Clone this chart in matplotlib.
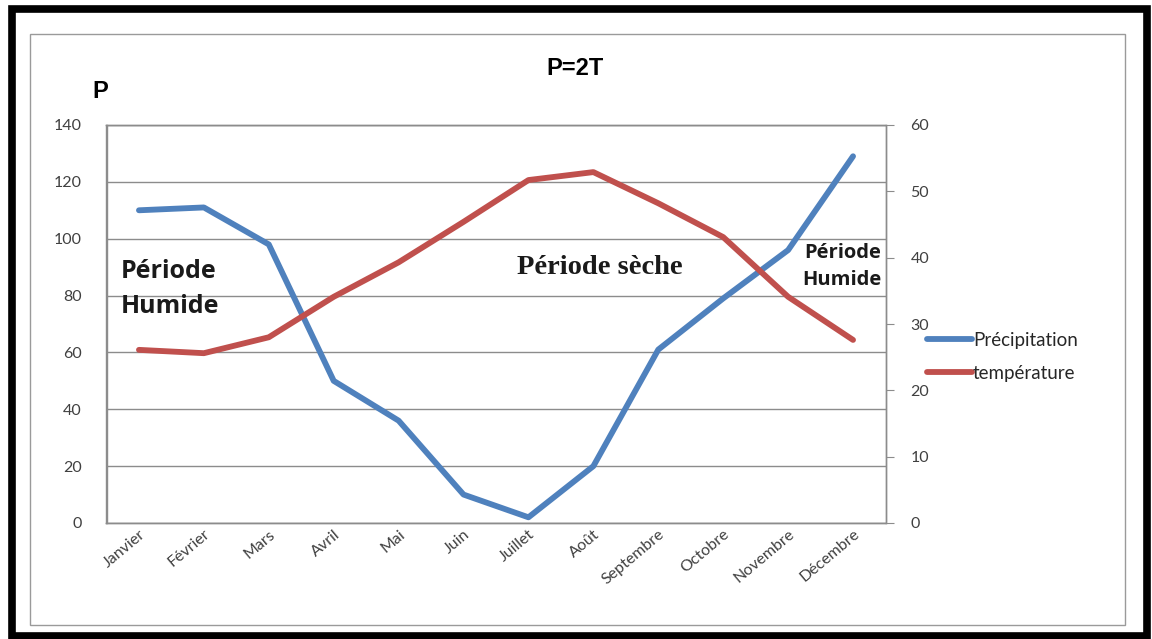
import matplotlib
matplotlib.use("Agg")
import matplotlib.pyplot as plt
from matplotlib.patches import Rectangle

months = ["Janvier", "Février", "Mars", "Avril", "Mai", "Juin", "Juillet",
          "Août", "Septembre", "Octobre", "Novembre", "Décembre"]
precipitation = [110, 111, 98, 50, 36, 10, 2, 20, 61, 79, 96, 129]
temperature = [26.1, 25.6, 28.0, 34.1, 39.3, 45.4, 51.7, 52.9, 48.2, 43.1, 34.1, 27.6]
left_ticks = [0, 20, 40, 60, 80, 100, 120, 140]
right_ticks = [0, 10, 20, 30, 40, 50, 60]

BLUE = "#4F81BD"
RED = "#C0504D"
GRID = "#8C8C8C"
TXT = "#404040"

W, H = 1152, 639
fig = plt.figure(figsize=(W / 100, H / 100), dpi=100)

def fx(px):
    return px / W

def fy(py):
    return 1 - py / H

# frames
fig.patches.append(Rectangle((fx(12), fy(636)), fx(1147) - fx(12), fy(8.5) - fy(636),
                             transform=fig.transFigure, fill=False, ec="black", lw=5.5))
fig.patches.append(Rectangle((fx(30), fy(625)), fx(1125) - fx(30), fy(34) - fy(625),
                             transform=fig.transFigure, fill=False, ec="#9A9A9A", lw=1.0))

ax = fig.add_axes([fx(106.5), fy(523), fx(885.5) - fx(106.5), fy(125) - fy(523)])
x = list(range(len(months)))
ax.set_xlim(-0.5, len(months) - 0.5)
ax.set_ylim(0, 140)
ax.set_yticks(left_ticks)
ax.yaxis.grid(True, color=GRID, lw=1.0)
ax.set_axisbelow(True)
for s in ax.spines.values():
    s.set_color(GRID)
    s.set_linewidth(1.0)
ax.tick_params(axis="y", length=0, pad=18, labelsize=11.5, labelcolor=TXT)
ax.tick_params(axis="x", length=0, pad=3, labelsize=11.5, labelcolor=TXT)
ax.set_xticks(x)
ax.set_xticklabels(months, rotation=40, ha="right", rotation_mode="anchor",
                   family="Lato")
for lbl in ax.get_yticklabels():
    lbl.set_family("Lato")

l1, = ax.plot(x, precipitation, color=BLUE, lw=4.2, solid_capstyle="round",
              solid_joinstyle="round", label="Précipitation", zorder=3)

ax2 = ax.twinx()
ax2.set_ylim(0, 60)
ax2.set_yticks(right_ticks)
for s in ax2.spines.values():
    s.set_color(GRID)
    s.set_linewidth(1.0)
ax2.tick_params(axis="y", length=6, color=GRID, pad=12, labelsize=11.5, labelcolor=TXT)
for lbl in ax2.get_yticklabels():
    lbl.set_family("Lato")
l2, = ax2.plot(x, temperature, color=RED, lw=4.2, solid_capstyle="round",
               solid_joinstyle="round", label="température", zorder=3)

leg = fig.legend(handles=[l1, l2], loc="center left",
                 bbox_to_anchor=(fx(927), fy(357)), frameon=False,
                 prop={"family": "Lato", "size": 13.5}, handlelength=2.4,
                 handletextpad=0.05, labelspacing=0.85, borderaxespad=0,
                 borderpad=0)
for t in leg.get_texts():
    t.set_color("#262626")

fig.text(fx(575), fy(75), "P=2T", ha="center", va="baseline", fontsize=17,
         fontweight="bold", family="Liberation Sans")
fig.text(fx(100), fy(98), "P", ha="center", va="baseline", fontsize=17,
         fontweight="bold", family="Liberation Sans")
fig.text(fx(121), fy(278), "Période", ha="left", va="baseline", fontsize=18,
         fontweight="bold", family="Open Sans", color="#1a1a1a")
fig.text(fx(121), fy(313), "Humide", ha="left", va="baseline", fontsize=18,
         fontweight="bold", family="Open Sans", color="#1a1a1a")
fig.text(fx(517), fy(274), "Période sèche", ha="left", va="baseline", fontsize=20.5,
         fontweight="bold", family="Liberation Serif", color="#1a1a1a")
fig.text(fx(881), fy(258), "Période", ha="right", va="baseline", fontsize=14.5,
         fontweight="bold", family="Open Sans", color="#1a1a1a")
fig.text(fx(881), fy(285), "Humide", ha="right", va="baseline", fontsize=14.5,
         fontweight="bold", family="Open Sans", color="#1a1a1a")

fig.savefig("out.png", dpi=100)
